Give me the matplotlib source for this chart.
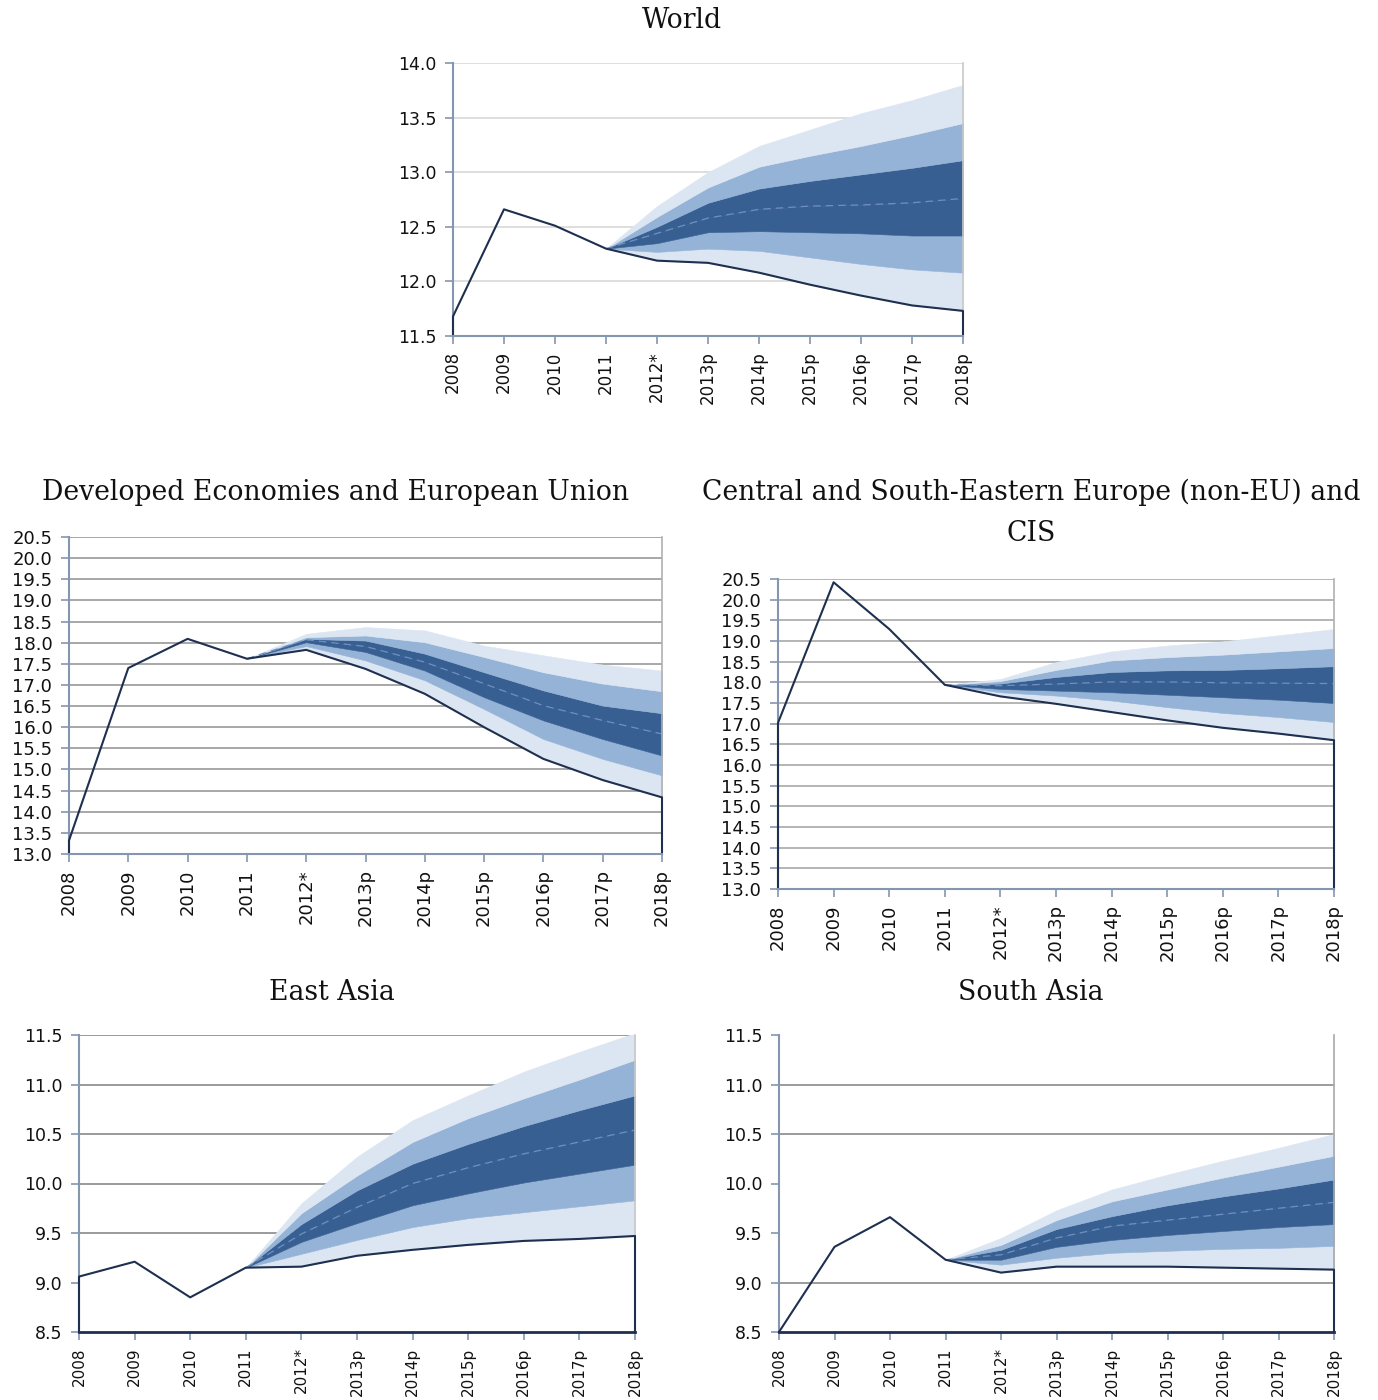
import matplotlib
matplotlib.use("Agg")
import matplotlib.pyplot as plt
import numpy as np

W, H = 1378, 1400

YEARS = ["2008", "2009", "2010", "2011", "2012*", "2013p", "2014p",
         "2015p", "2016p", "2017p", "2018p"]

# actual values 2008-2011, then fan levels 2012*-2018p (lowest to highest)
world_actual = [11.68, 12.66, 12.51, 12.30]
world_fan = [
    [12.19, 12.17, 12.08, 11.97, 11.87, 11.78, 11.73],
    [12.27, 12.30, 12.28, 12.22, 12.16, 12.11, 12.08],
    [12.35, 12.45, 12.46, 12.45, 12.44, 12.42, 12.42],
    [12.44, 12.58, 12.66, 12.69, 12.70, 12.72, 12.76],
    [12.50, 12.72, 12.85, 12.92, 12.98, 13.04, 13.11],
    [12.59, 12.86, 13.05, 13.15, 13.24, 13.34, 13.45],
    [12.69, 13.00, 13.24, 13.39, 13.54, 13.66, 13.80],
]

dev_actual = [13.32, 17.40, 18.09, 17.62]
dev_fan = [
    [17.83, 17.38, 16.79, 16.00, 15.25, 14.75, 14.34],
    [17.92, 17.58, 17.11, 16.43, 15.72, 15.25, 14.86],
    [18.01, 17.78, 17.34, 16.71, 16.16, 15.72, 15.33],
    [18.07, 17.91, 17.54, 17.03, 16.51, 16.16, 15.84],
    [18.09, 18.05, 17.74, 17.30, 16.87, 16.51, 16.33],
    [18.13, 18.17, 18.01, 17.66, 17.30, 17.03, 16.85],
    [18.21, 18.37, 18.29, 17.93, 17.70, 17.48, 17.34],
]

csee_actual = [17.02, 20.42, 19.29, 17.94]
csee_fan = [
    [17.66, 17.48, 17.28, 17.08, 16.90, 16.76, 16.60],
    [17.76, 17.68, 17.56, 17.40, 17.26, 17.16, 17.04],
    [17.84, 17.80, 17.76, 17.70, 17.64, 17.58, 17.50],
    [17.92, 17.96, 18.01, 18.01, 17.99, 17.98, 17.97],
    [17.97, 18.13, 18.25, 18.29, 18.30, 18.34, 18.39],
    [18.03, 18.30, 18.53, 18.61, 18.67, 18.75, 18.83],
    [18.08, 18.49, 18.75, 18.89, 18.99, 19.14, 19.29],
]

east_actual = [9.06, 9.21, 8.85, 9.15]
east_fan = [
    [9.16, 9.27, 9.33, 9.38, 9.42, 9.44, 9.47],
    [9.29, 9.43, 9.56, 9.65, 9.71, 9.77, 9.83],
    [9.41, 9.60, 9.78, 9.90, 10.01, 10.10, 10.19],
    [9.49, 9.76, 10.00, 10.16, 10.30, 10.42, 10.54],
    [9.59, 9.93, 10.20, 10.40, 10.58, 10.74, 10.89],
    [9.70, 10.08, 10.42, 10.66, 10.86, 11.05, 11.25],
    [9.80, 10.27, 10.64, 10.89, 11.13, 11.33, 11.52],
]

south_actual = [8.50, 9.36, 9.66, 9.23]
south_fan = [
    [9.10, 9.16, 9.16, 9.16, 9.15, 9.14, 9.13],
    [9.18, 9.25, 9.30, 9.32, 9.34, 9.35, 9.37],
    [9.23, 9.36, 9.43, 9.48, 9.52, 9.56, 9.59],
    [9.28, 9.45, 9.57, 9.63, 9.69, 9.75, 9.81],
    [9.33, 9.54, 9.67, 9.78, 9.87, 9.95, 10.04],
    [9.38, 9.63, 9.82, 9.94, 10.06, 10.17, 10.28],
    [9.45, 9.73, 9.94, 10.09, 10.23, 10.36, 10.50],
]

LIGHT = "#dce6f2"
MID = "#95b3d7"
DARK = "#375f92"
LINE = "#1f2f4f"
SPINE = "#8496b0"
BAND_COLORS = [LIGHT, MID, DARK, DARK, MID, LIGHT]


def box(left, top, right, bottom):
    return [left / W, 1 - bottom / H, (right - left) / W, (bottom - top) / H]


def draw_panel(ax, actual, fan, ylo, yhi, grid_vals, grid_color, right_color,
               fs, xfs=None, bottom_color=SPINE):
    x = np.arange(len(YEARS))
    xf = np.arange(3, len(YEARS))
    levels = [[actual[-1]] + row for row in fan]

    for g in grid_vals:
        ax.axhline(g, color=grid_color, lw=1.1, zorder=0)

    for i, c in enumerate(BAND_COLORS):
        ax.fill_between(xf, levels[i], levels[i + 1], facecolor=c,
                        edgecolor=c, lw=0.4, zorder=1)

    ax.plot(xf, levels[3], color="#6f8fc0", lw=0.9, ls=(0, (6, 4)), zorder=2)

    # lower series drawn as an area outline: drops to the axis at both ends
    lower = actual + fan[0]
    px = np.concatenate([[x[0]], x, [x[-1]]])
    py = np.concatenate([[ylo], lower, [ylo]])
    ax.plot(px, py, color=LINE, lw=1.5, zorder=3, clip_on=False)

    ax.set_xlim(0, len(YEARS) - 1)
    ax.set_ylim(ylo, yhi)
    ticks = np.arange(ylo, yhi + 0.01, 0.5)
    ax.set_yticks(ticks)
    ax.set_yticklabels([f"{v:.1f}" for v in ticks])
    ax.set_xticks(x)
    ax.set_xticklabels(YEARS, rotation=90)
    ax.tick_params(axis="both", colors=SPINE, length=6, width=1.2,
                   labelcolor="#111111")
    ax.tick_params(axis="y", pad=6, labelsize=fs)
    ax.tick_params(axis="x", pad=5, labelsize=xfs or fs)

    ax.spines["top"].set_visible(False)
    ax.spines["left"].set_color(SPINE)
    ax.spines["left"].set_linewidth(1.5)
    ax.spines["bottom"].set_color(bottom_color)
    ax.spines["bottom"].set_linewidth(2.0 if bottom_color != SPINE else 1.5)
    ax.spines["bottom"].set_zorder(4)
    ax.spines["right"].set_color(right_color)
    ax.spines["right"].set_linewidth(1.2)


fig = plt.figure(figsize=(W / 100, H / 100), dpi=100)
title_kw = dict(family="DejaVu Serif", fontsize=19.2, ha="center", va="center",
                color="#111111")

ax1 = fig.add_axes(box(453, 63, 963, 336))
draw_panel(ax1, world_actual, world_fan, 11.5, 14.0,
           [12.0, 12.5, 13.0, 13.5, 14.0], "#d4d4d4", "#c8c8c8", 12.5, 12)
fig.text(682 / W, 1 - 20 / H, "World", **title_kw)

ax2 = fig.add_axes(box(69, 537, 662, 854))
draw_panel(ax2, dev_actual, dev_fan, 13.0, 20.5,
           list(np.arange(13.5, 20.51, 0.5)), "#909090", "#b0b0b0", 13)
fig.text(336 / W, 1 - 492 / H, "Developed Economies and European Union",
         **title_kw)

ax3 = fig.add_axes(box(778, 579, 1334, 889))
draw_panel(ax3, csee_actual, csee_fan, 13.0, 20.5,
           list(np.arange(13.5, 20.51, 0.5)), "#a0a0a0", "#b0b0b0", 13)
fig.text(1031 / W, 1 - 513 / H,
         "Central and South-Eastern Europe (non-EU) and\nCIS",
         linespacing=1.65, **title_kw)

ax4 = fig.add_axes(box(79, 1035, 635, 1332))
draw_panel(ax4, east_actual, east_fan, 8.5, 11.5,
           [9.5, 10.0, 10.5, 11.0, 11.5], "#7f7f7f", "#c8c8c8", 12.5, 11,
           bottom_color=LINE)
fig.text(332 / W, 1 - 992 / H, "East Asia", **title_kw)

ax5 = fig.add_axes(box(779, 1035, 1334, 1332))
draw_panel(ax5, south_actual, south_fan, 8.5, 11.5,
           [9.0, 10.5, 11.0], "#808080", "#a8a8a8", 12.5, 11,
           bottom_color=LINE)
fig.text(1031 / W, 1 - 992 / H, "South Asia", **title_kw)

fig.savefig("out.png", dpi=100)
